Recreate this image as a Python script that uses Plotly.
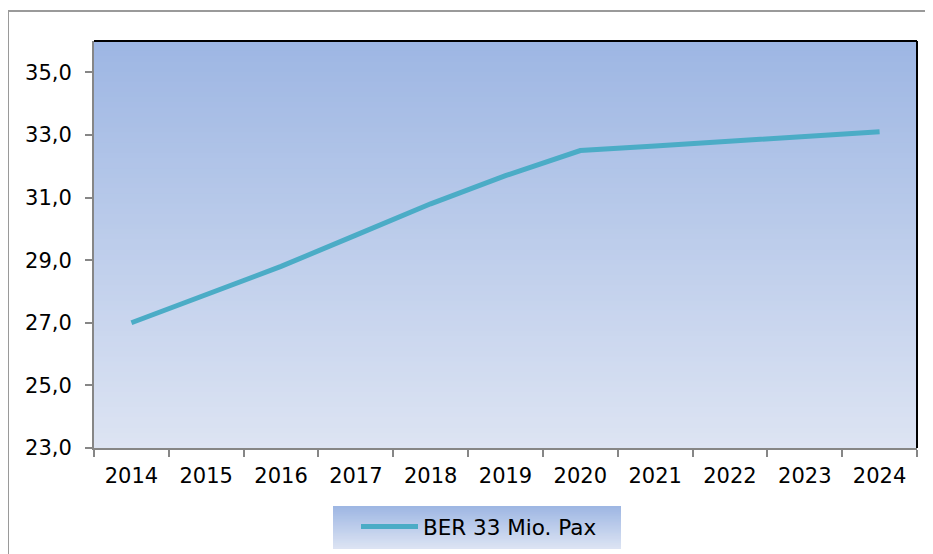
import plotly.graph_objects as go

years = ["2014", "2015", "2016", "2017", "2018", "2019", "2020", "2021", "2022", "2023", "2024"]
pax = [27.0, 27.9, 28.8, 29.8, 30.8, 31.7, 32.5, 32.65, 32.8, 32.95, 33.1]
series_name = "BER 33 Mio. Pax"
y_ticks = [23, 25, 27, 29, 31, 33, 35]

# page body has an 8px margin; work in screen coordinates and subtract it
OFF = 8
W, H = 933 - OFF, 554 - OFF
PX0, PX1, PY0, PY1 = 94, 917, 41, 448  # plot area in screen px
L, R, T, B = PX0 - OFF, W - (PX1 - OFF), PY0 - OFF, H - (PY1 - OFF)
pw, ph = W - L - R, H - T - B

def px_x(x):
    return (x - PX0) / pw

def px_y(y):
    return (PY1 - y) / ph

def lerp(c1, c2, t):
    return "rgb(%d,%d,%d)" % tuple(round(a + (b - a) * t) for a, b in zip(c1, c2))

top_c = (157, 182, 227)
bot_c = (221, 228, 243)

shapes = []
# outer frame
shapes.append(dict(type="rect", xref="paper", yref="paper",
                   x0=px_x(8), x1=px_x(960), y0=px_y(580), y1=px_y(11),
                   line=dict(color="#9a9a9a", width=2), fillcolor="white", layer="below"))
# plot area gradient (overlapping bands to avoid seams)
n = 80
for i in range(n):
    shapes.append(dict(type="rect", xref="x domain", yref="y domain",
                       x0=0, x1=1, y0=max(0, 1 - (i + 1) / n - 0.01), y1=1 - i / n,
                       fillcolor=lerp(top_c, bot_c, (i + 0.5) / n),
                       line=dict(width=0), layer="below"))
# legend gradient box
lx0, lx1, ly0, ly1 = 333, 621, 506, 549
m = 30
for i in range(m):
    ya = ly0 + (ly1 - ly0) * i / m
    yb = min(ly1, ly0 + (ly1 - ly0) * (i + 1) / m + 1.5)
    shapes.append(dict(type="rect", xref="paper", yref="paper",
                       x0=px_x(lx0), x1=px_x(lx1), y0=px_y(yb), y1=px_y(ya),
                       fillcolor=lerp(top_c, bot_c, (i + 0.5) / m),
                       line=dict(width=0), layer="below"))
# top & right black border
shapes.append(dict(type="line", xref="paper", yref="paper", x0=0, x1=1, y0=1, y1=1,
                   line=dict(color="black", width=2)))
shapes.append(dict(type="line", xref="paper", yref="paper", x0=1, x1=1, y0=0, y1=1,
                   line=dict(color="black", width=2)))

fig = go.Figure()
fig.add_trace(go.Scatter(x=years, y=pax, mode="lines", name=series_name,
                         line=dict(color="#4BACC6", width=5), showlegend=True))

fig.update_layout(
    width=W, height=H,
    margin=dict(l=L, r=R, t=T, b=B, autoexpand=False),
    paper_bgcolor="white",
    plot_bgcolor="rgba(0,0,0,0)",
    separators=",.",
    font=dict(family="DejaVu Sans, Verdana, sans-serif", size=21, color="black"),
    shapes=shapes,
    showlegend=True,
    legend=dict(x=px_x(479), y=px_y(506), xanchor="center", yanchor="top",
                bgcolor="rgba(0,0,0,0)", font=dict(size=21.5), itemwidth=57,
                orientation="h"),
    xaxis=dict(type="category", range=[-0.5, 10.5], showgrid=False, zeroline=False,
               showline=True, linecolor="#868686", linewidth=2,
               ticks="outside", ticklen=7, tickcolor="#868686", tickwidth=2,
               tickson="boundaries", tickfont=dict(size=21), ticklabelstandoff=8,
               automargin=False),
    yaxis=dict(range=[23, 36], tickvals=y_ticks, tickformat=".1f",
               showgrid=False, zeroline=False,
               showline=True, linecolor="#868686", linewidth=2,
               ticks="outside", ticklen=7, tickcolor="#868686", tickwidth=2,
               tickfont=dict(size=21), ticklabelstandoff=9, automargin=False),
)

fig.write_html("out.html")
